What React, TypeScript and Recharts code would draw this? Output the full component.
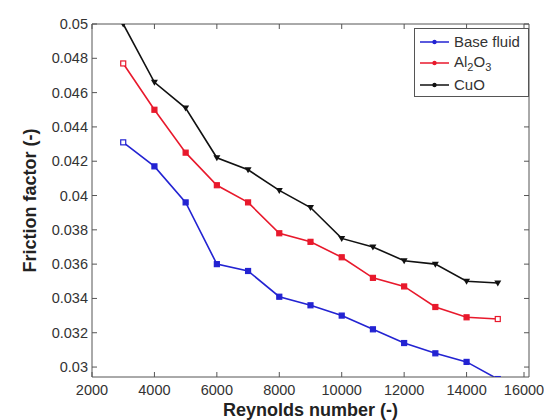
import { LineChart, Line, XAxis, YAxis, Label } from "recharts"

const reynolds = [3000, 4000, 5000, 6000, 7000, 8000, 9000, 10000, 11000, 12000, 13000, 14000, 15000]
const baseFluid = [0.0431, 0.0417, 0.0396, 0.036, 0.0356, 0.0341, 0.0336, 0.033, 0.0322, 0.0314, 0.0308, 0.0303, 0.0293]
const al2o3 = [0.0477, 0.045, 0.0425, 0.0406, 0.0396, 0.0378, 0.0373, 0.0364, 0.0352, 0.0347, 0.0335, 0.0329, 0.0328]
const cuo = [0.05, 0.0466, 0.0451, 0.0422, 0.0415, 0.0403, 0.0393, 0.0375, 0.037, 0.0362, 0.036, 0.035, 0.0349]

const xTicks = [2000, 4000, 6000, 8000, 10000, 12000, 14000, 16000]
const yTicks = [0.03, 0.032, 0.034, 0.036, 0.038, 0.04, 0.042, 0.044, 0.046, 0.048, 0.05]

const data = reynolds.map((re, i) => ({ re, base: baseFluid[i], al: al2o3[i], cuo: cuo[i] }))

const FONT = "'Liberation Sans', Arial, sans-serif"
const AXIS = "#555"
const TEXT = "#333"
const BLUE = "#2323d2"
const RED = "#e8192c"
const BLACK = "#111"

const squareDot = (color: string) => (p: any) => {
  const last = p.index === 0 || p.index === reynolds.length - 1
  return (
    <rect
      key={`d${p.index}`}
      x={p.cx - 2.5}
      y={p.cy - 2.5}
      width={5}
      height={5}
      fill={last ? "#fff" : color}
      stroke={color}
      strokeWidth={1.2}
    />
  )
}

const triDot = (p: any) => (
  <path
    key={`t${p.index}`}
    d={`M${p.cx - 3.5},${p.cy - 2.5} L${p.cx + 3.5},${p.cy - 2.5} L${p.cx},${p.cy + 3.5} Z`}
    fill={BLACK}
  />
)

const LeftTick = (p: any) => (
  <g>
    <line x1={p.x} y1={p.y} x2={p.x + 5} y2={p.y} stroke={AXIS} />
    <text x={p.x - 4} y={p.y} dy={5} textAnchor="end" fontSize={14.5} fill={TEXT} fontFamily={FONT}>
      {p.payload.value}
    </text>
  </g>
)

const BottomTick = (p: any) => (
  <g>
    <line x1={p.x} y1={p.y} x2={p.x} y2={p.y - 5} stroke={AXIS} />
    <text x={p.x} y={p.y + 18} textAnchor="middle" fontSize={14.5} fill={TEXT} fontFamily={FONT}>
      {p.payload.value}
    </text>
  </g>
)

const RightTick = (p: any) => <line x1={p.x} y1={p.y} x2={p.x - 5} y2={p.y} stroke={AXIS} />
const TopTick = (p: any) => <line x1={p.x} y1={p.y} x2={p.x} y2={p.y + 5} stroke={AXIS} />

const legendItems = [
  { name: "Base fluid", color: BLUE },
  { name: "Al2O3", color: RED },
  { name: "CuO", color: BLACK },
]

function LegendBox() {
  return (
    <div
      style={{
        position: "absolute",
        left: 414,
        top: 28,
        width: 115,
        height: 69,
        border: `1px solid ${AXIS}`,
        background: "#fff",
        fontFamily: FONT,
        fontSize: 15,
        color: TEXT,
        boxSizing: "border-box",
        paddingTop: 2,
      }}
    >
      {legendItems.map((it) => (
        <div key={it.name} style={{ display: "flex", alignItems: "center", height: 21.5 }}>
          <svg width={36} height={10} style={{ marginLeft: 3 }}>
            <line x1={2} y1={5} x2={31} y2={5} stroke={it.color} strokeWidth={1.5} />
            <circle cx={16.5} cy={5} r={2.2} fill={it.color} />
          </svg>
          <span>
            {it.name === "Al2O3" ? (
              <>
                Al<sub style={{ fontSize: 11 }}>2</sub>O<sub style={{ fontSize: 11 }}>3</sub>
              </>
            ) : (
              it.name
            )}
          </span>
        </div>
      ))}
    </div>
  )
}

export default function App() {
  return (
    <div style={{ position: "absolute", left: 0, top: 0, width: 544, height: 420, background: "#fff" }}>
      <LineChart width={544} height={420} data={data} margin={{ top: 23, right: 14, bottom: 0, left: 0 }}>
        <XAxis
          dataKey="re"
          type="number"
          domain={[2000, 16000]}
          ticks={xTicks}
          height={43}
          stroke={AXIS}
          tickSize={0}
          tickMargin={0}
          tick={BottomTick}
        >
          <Label
            value="Reynolds number (-)"
            position="insideBottom"
            offset={4}
            style={{ fontSize: 18, fontWeight: "bold", fill: "#222", fontFamily: FONT }}
          />
        </XAxis>
        <XAxis
          xAxisId="top"
          orientation="top"
          dataKey="re"
          type="number"
          domain={[2000, 16000]}
          ticks={xTicks}
          height={1}
          stroke={AXIS}
          tickSize={0}
          tickMargin={0}
          tick={TopTick}
        />
        <YAxis
          type="number"
          domain={[0.02942, 0.05]}
          allowDataOverflow
          ticks={yTicks}
          width={92}
          stroke={AXIS}
          tickSize={0}
          tickMargin={0}
          tick={LeftTick}
        >
          <Label
            value="Friction factor (-)"
            angle={-90}
            position="insideLeft"
            offset={30}
            style={{ textAnchor: "middle", fontSize: 18, fontWeight: "bold", fill: "#222", fontFamily: FONT }}
          />
        </YAxis>
        <YAxis
          yAxisId="right"
          orientation="right"
          type="number"
          domain={[0.02942, 0.05]}
          allowDataOverflow
          ticks={yTicks}
          width={1}
          stroke={AXIS}
          tickSize={0}
          tickMargin={0}
          tick={RightTick}
        />
        <Line xAxisId="top" yAxisId="right" dataKey="cuo" stroke="none" dot={false} activeDot={false} isAnimationActive={false} />
        <Line dataKey="base" name="Base fluid" stroke={BLUE} strokeWidth={1.6} dot={squareDot(BLUE)} isAnimationActive={false} />
        <Line dataKey="al" name="Al2O3" stroke={RED} strokeWidth={1.6} dot={squareDot(RED)} isAnimationActive={false} />
        <Line dataKey="cuo" name="CuO" stroke={BLACK} strokeWidth={1.6} dot={triDot} isAnimationActive={false} />
      </LineChart>
      <LegendBox />
    </div>
  )
}
